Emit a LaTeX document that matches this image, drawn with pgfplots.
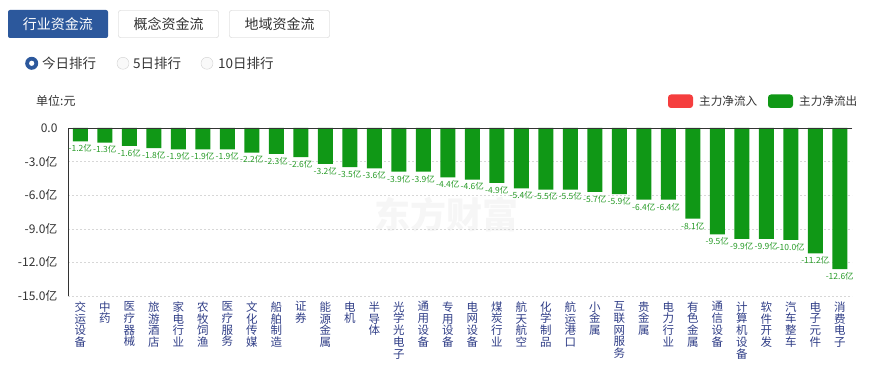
\documentclass[border=0pt]{standalone}
\usepackage{pgfplots}
\pgfplotsset{compat=1.18}
\usepackage{pgfplotstable}
\usepackage{fontspec}
\setmainfont{Noto Sans CJK SC}
\definecolor{bargreen}{RGB}{16,152,22}
\definecolor{labgreen}{RGB}{40,155,40}
\definecolor{legred}{RGB}{245,62,62}
\definecolor{btnblue}{RGB}{44,88,156}
\definecolor{xlab}{RGB}{48,62,135}
\definecolor{txt}{RGB}{51,51,51}
\definecolor{gridc}{RGB}{215,215,215}

\pgfplotstableread{
x y
0 -1.2
1 -1.3
2 -1.6
3 -1.8
4 -1.9
5 -1.9
6 -1.9
7 -2.2
8 -2.3
9 -2.6
10 -3.2
11 -3.5
12 -3.6
13 -3.9
14 -3.9
15 -4.4
16 -4.6
17 -4.9
18 -5.4
19 -5.5
20 -5.5
21 -5.7
22 -5.9
23 -6.4
24 -6.4
25 -8.1
26 -9.5
27 -9.9
28 -9.9
29 -10.0
30 -11.2
31 -12.6
}\flowdata

\begin{document}
\begin{tikzpicture}
\path[use as bounding box] (0,0) rectangle (879pt,372pt);

\begin{scope}[x=1pt,y=-1pt,yshift=372pt]
% buttons
\fill[btnblue,rounded corners=2pt] (8,10) rectangle (108,38);
\node[text=white,font=\fontsize{14}{16}\selectfont] at (58,24) {行业资金流};
\draw[gray!40,fill=white,rounded corners=2pt] (118.5,10.5) rectangle (218.5,37.5);
\node[text=txt,font=\fontsize{14}{16}\selectfont] at (168.5,24) {概念资金流};
\draw[gray!40,fill=white,rounded corners=2pt] (229.5,10.5) rectangle (329.5,37.5);
\node[text=txt,font=\fontsize{14}{16}\selectfont] at (279.5,24) {地域资金流};
% radios
\fill[btnblue] (31.7,63.3) circle (6.5);
\fill[white] (31.7,63.3) circle (2.6);
\node[anchor=west,inner sep=0,text=txt,font=\fontsize{13.5}{15}\selectfont] at (42,63.3) {今日排行};
\draw[gray!35,fill=gray!5] (123,63.3) circle (6);
\node[anchor=west,inner sep=0,text=txt,font=\fontsize{13.5}{15}\selectfont] at (133,63.3) {5日排行};
\draw[gray!35,fill=gray!5] (207,63.3) circle (6);
\node[anchor=west,inner sep=0,text=txt,font=\fontsize{13.5}{15}\selectfont] at (218,63.3) {10日排行};
% unit
\node[anchor=west,inner sep=0,text=txt,font=\fontsize{12}{14}\selectfont] at (36,101) {单位:元};
% legend
\fill[legred,rounded corners=3pt] (668,94.5) rectangle (693,108);
\node[anchor=west,inner sep=0,text=txt,font=\fontsize{11.6}{14}\selectfont] at (699,101.3) {主力净流入};
\fill[bargreen,rounded corners=3pt] (768,94.5) rectangle (793,108);
\node[anchor=west,inner sep=0,text=txt,font=\fontsize{11.6}{14}\selectfont] at (799,101.3) {主力净流出};
% watermark
\node[anchor=west,inner sep=0,text=gray!7,font=\fontsize{36}{38}\selectfont\bfseries] at (374,215) {东方财富};
\end{scope}

\begin{axis}[
  at={(68pt,76pt)}, anchor=south west,
  scale only axis, width=784pt, height=168pt,
  xmin=-0.5, xmax=31.5, ymin=-15, ymax=0,
  ybar, bar width=15pt,
  axis line style={draw=none},
  major tick length=0pt,
  ytick={-15,-12,-9,-6,-3,0},
  yticklabels={-15.0亿,-12.0亿,-9.0亿,-6.0亿,-3.0亿,0.0},
  yticklabel style={font=\fontsize{12}{14}\selectfont, text=txt, xshift=-7pt},
  ymajorgrids,
  grid style={gridc, dash pattern=on 2pt off 2pt},
  xtick={0,...,31},
  xticklabels={{交\\运\\设\\备},{中\\药},{医\\疗\\器\\械},{旅\\游\\酒\\店},{家\\电\\行\\业},{农\\牧\\饲\\渔},{医\\疗\\服\\务},{文\\化\\传\\媒},{船\\舶\\制\\造},{证\\券},{能\\源\\金\\属},{电\\机},{半\\导\\体},{光\\学\\光\\电\\子},{通\\用\\设\\备},{专\\用\\设\\备},{电\\网\\设\\备},{煤\\炭\\行\\业},{航\\天\\航\\空},{化\\学\\制\\品},{航\\运\\港\\口},{小\\金\\属},{互\\联\\网\\服\\务},{贵\\金\\属},{电\\力\\行\\业},{有\\色\\金\\属},{通\\信\\设\\备},{计\\算\\机\\设\\备},{软\\件\\开\\发},{汽\\车\\整\\车},{电\\子\\元\\件},{消\\费\\电\\子}},
  xticklabel style={align=center, text=xlab, anchor=north, font=\fontsize{11.5}{11.8}\selectfont, yshift=-2pt},
  point meta=y,
  nodes near coords={\pgfmathprintnumber[fixed,fixed zerofill,precision=1,assume math mode=true]{\pgfplotspointmeta}亿},
  every node near coord/.append style={font=\fontsize{8.5}{9.5}\selectfont, text=labgreen, inner sep=3pt},
  clip=false,
]
\addplot[draw=none, fill=bargreen] table[x=x, y=y] {\flowdata};
\draw[txt] (axis cs:-0.5,0) -- (axis cs:31.5,0);
\draw[txt] (rel axis cs:0,0) -- (rel axis cs:0,1);
\end{axis}
\end{tikzpicture}
\end{document}
